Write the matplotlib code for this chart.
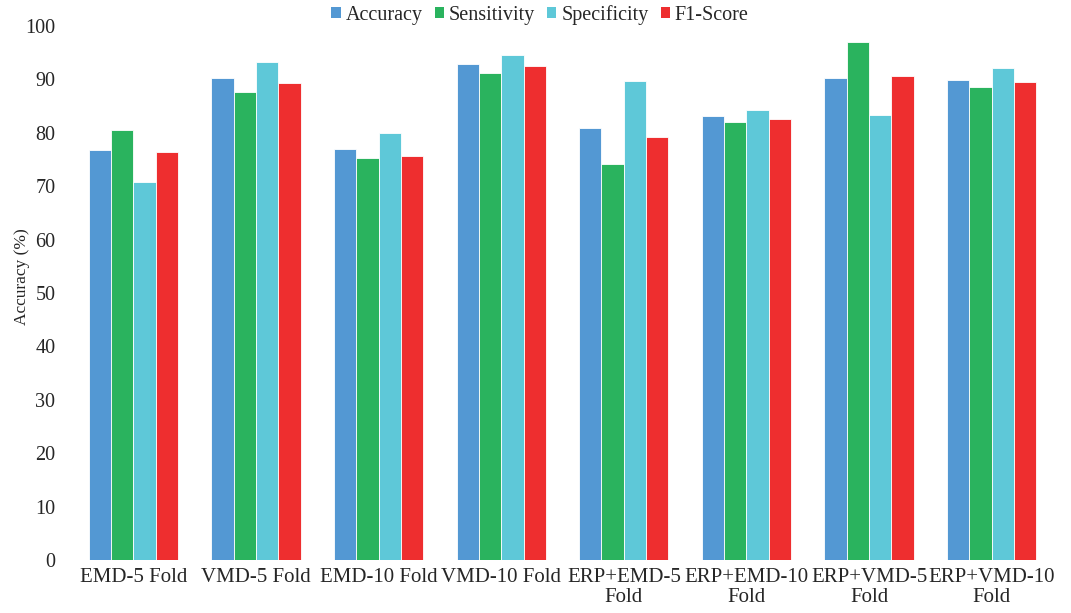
#!/usr/bin/env python3
"""Grouped bar chart of classification metrics for EMD/VMD feature sets."""

import numpy as np
import matplotlib.pyplot as plt
from matplotlib.patches import Patch

plt.rcParams['font.family'] = ['Liberation Serif', 'DejaVu Serif']

categories = ['EMD-5 Fold', 'VMD-5 Fold', 'EMD-10 Fold', 'VMD-10 Fold',
              'ERP+EMD-5\nFold', 'ERP+EMD-10\nFold', 'ERP+VMD-5\nFold',
              'ERP+VMD-10\nFold']
accuracy    = [76.7, 90.2, 76.9, 92.9, 80.9, 83.2, 90.3, 89.9]
sensitivity = [80.6, 87.7, 75.3, 91.2, 74.1, 82.0, 97.0, 88.5]
specificity = [70.7, 93.2, 80.0, 94.6, 89.7, 84.3, 83.4, 92.1]
f1_score    = [76.4, 89.3, 75.7, 92.6, 79.3, 82.6, 90.7, 89.6]

series = [('Accuracy', accuracy, '#5398d3'),
          ('Sensitivity', sensitivity, '#2ab35e'),
          ('Specificity', specificity, '#5ec8d8'),
          ('F1-Score', f1_score, '#ee2e2f')]

fig = plt.figure(figsize=(10.71, 6.13), dpi=100)
ax = fig.add_axes([72 / 1071, 53 / 613, (1053 - 72) / 1071, (560 - 26) / 613])

x = np.arange(len(categories))
w = 0.182
for i, (name, vals, col) in enumerate(series):
    ax.bar(x + (i - 1.5) * w, vals, w, color=col, edgecolor='white',
           linewidth=0.6, label=name)

ax.set_xlim(-0.5, len(categories) - 0.5)
ax.set_ylim(0, 100)
ax.set_yticks(np.arange(0, 101, 10))
ax.set_xticks(x)
ax.set_xticklabels(categories, fontsize=15, linespacing=1.05)
ax.tick_params(axis='y', labelsize=14.5, length=0, pad=12, colors='#262626')
ax.tick_params(axis='x', length=0, pad=6, colors='#262626')
for s in ax.spines.values():
    s.set_visible(False)

# y label placed in figure coords so it sits inside the canvas
fig.text(22 / 1071, 1 - 277 / 613, 'Accuracy (%)', rotation=90, fontsize=12.5,
         color='#262626', ha='center', va='center')

handles = [Patch(facecolor=col, edgecolor='none') for _, _, col in series]
fig.legend(handles, [s[0] for s in series], loc='center',
           bbox_to_anchor=(540 / 1071, 1 - 15 / 613), ncol=4, frameon=False,
           fontsize=14.5, handlelength=0.45, handleheight=0.45,
           handletextpad=0.25, columnspacing=0.6, labelcolor='#262626')

fig.savefig('out.png', dpi=100)
